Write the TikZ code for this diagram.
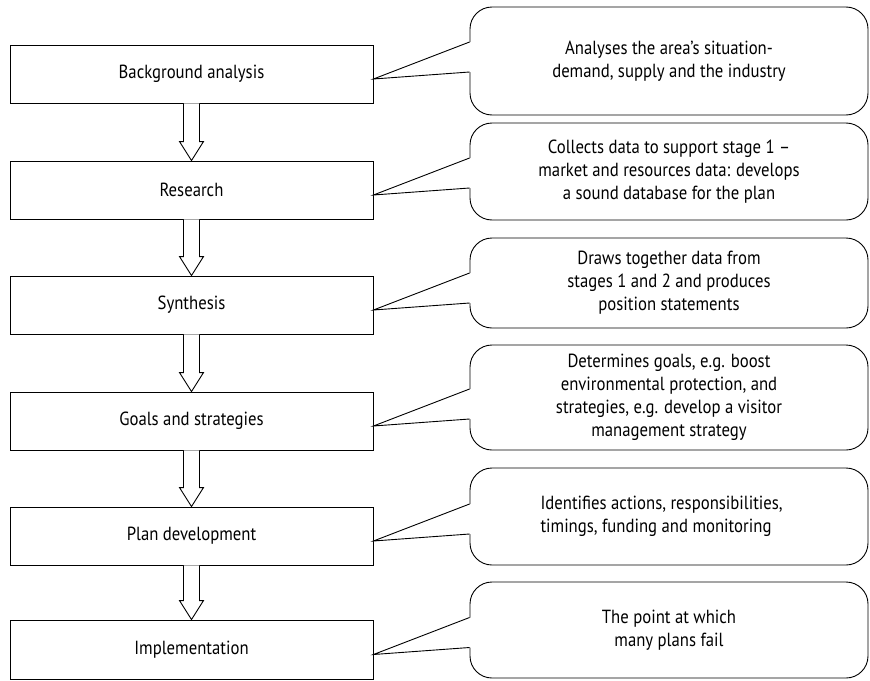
\documentclass[tikz,border=0pt]{standalone}
\usepackage{fontspec}
\setmainfont{PT Sans}[FakeStretch=0.88]
\usetikzlibrary{calc}
\begin{document}
\begin{tikzpicture}[x=1pt,y=-1pt,
  stage/.style={draw, line width=0.9pt, minimum width=363pt, minimum height=58pt,
    inner sep=0pt, font=\fontsize{19}{23}\selectfont},
  callout/.style={draw, line width=0.9pt, rounded corners=22pt, minimum width=398pt,
    inner sep=0pt, align=center, font=\fontsize{19}{23}\selectfont},
  pointer/.style={line width=0.9pt, line join=miter},
  flow/.style={draw, line width=0.9pt, fill=white, line join=miter}]
\useasboundingbox (0,0) rectangle (870,680);

% stage boxes in the left column
\node[stage] (b1) at (191.5,74) {Background analysis};
\node[stage] (b2) at (191.5,190) {Research};
\node[stage] (b3) at (191.5,305) {Synthesis};
\node[stage] (b4) at (191.5,421) {Goals and strategies};
\node[stage] (b5) at (191.5,536) {Plan development};
\node[stage, minimum height=59pt] (b6) at (191.5,649.5) {Implementation};

% rounded callouts in the right column
\node[callout, minimum height=108pt] (c1) at (669,61) {Analyses the area's situation-\\demand, supply and the industry};
\node[callout, minimum height=97pt] (c2) at (669,171.5) {Collects data to support stage 1 --\\market and resources data: develops\\a sound database for the plan};
\node[callout, minimum height=90pt] (c3) at (669,283) {Draws together data from\\stages 1 and 2 and produces\\position statements};
\node[callout, minimum height=105pt] (c4) at (669,397.5) {Determines goals, e.g. boost\\environmental protection, and\\strategies, e.g. develop a visitor\\management strategy};
\node[callout, minimum height=97pt, align=left] (c5) at (669,516.5) {Identifies actions, responsibilities,\\timings, funding and monitoring\hspace*{26pt}};
\node[callout, minimum height=96pt] (c6) at (669,630) {The point at which\\many plans fail};

% speech-bubble pointers from each stage to its callout
\foreach \i in {1,...,6} {
  \coordinate (t\i) at ($(b\i.east)+(0,5)$);
  \coordinate (u\i) at ($(c\i.west|-b\i.east)+(0,-32)$);
  \coordinate (l\i) at ($(c\i.west|-b\i.east)+(0,-2)$);
  \fill[white] (t\i) -- ($(u\i)+(1.5,0)$) -- ($(l\i)+(1.5,0)$) -- cycle;
  \draw[pointer] (u\i) -- (t\i) -- (l\i);
}

% hollow block arrows between consecutive stages
\foreach \i/\j in {1/2,2/3,3/4,4/5,5/6} {
  \draw[flow] ($(b\i.south)+(-8,0)$) -- ($(b\j.north)+(-8,-19)$)
    -- ($(b\j.north)+(-12,-19)$) -- (b\j.north) -- ($(b\j.north)+(12,-19)$)
    -- ($(b\j.north)+(8,-19)$) -- ($(b\i.south)+(8,0)$);
}
\end{tikzpicture}
\end{document}
